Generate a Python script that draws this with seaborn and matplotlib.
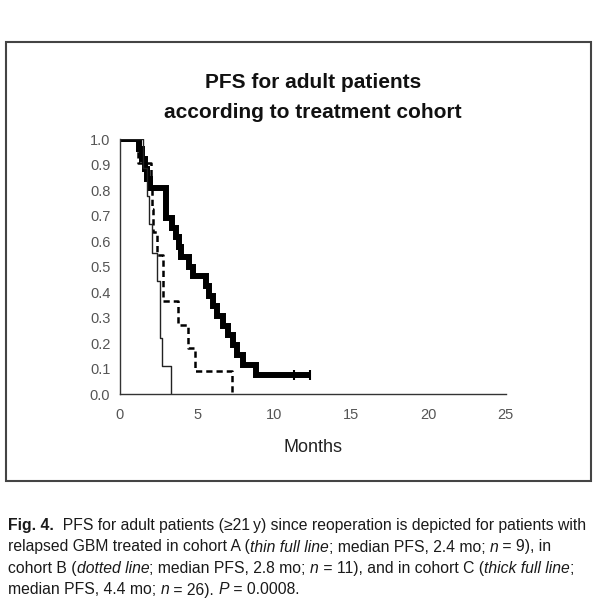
import matplotlib
matplotlib.use("Agg")
import matplotlib.pyplot as plt
import seaborn as sns
from matplotlib import font_manager
from matplotlib.font_manager import FontProperties
from matplotlib.patches import Rectangle
from matplotlib.transforms import IdentityTransform

# ---------------- data ----------------
# Cohort A (thin full line), n = 9
time_a = [0.0, 1.5, 1.75, 1.9, 2.1, 2.38, 2.59, 2.7, 3.3]
surv_a = [1.0, 0.889, 0.778, 0.667, 0.556, 0.444, 0.222, 0.111, 0.0]

# Cohort B (dotted line), n = 11
time_b = [0.0, 1.19, 2.0, 2.08, 2.15, 2.38, 2.76, 3.75, 4.43, 4.86, 7.27]
surv_b = [1.0, 0.909, 0.818, 0.727, 0.636, 0.545, 0.364, 0.273, 0.182, 0.091, 0.0]

# Cohort C (thick full line), n = 26
time_c = [0.0, 1.25, 1.45, 1.6, 1.75, 1.95, 2.95, 3.35, 3.6, 3.8, 3.95, 4.45,
          4.7, 5.6, 5.8, 6.0, 6.3, 6.7, 7.0, 7.3, 7.6, 8.0, 8.8, 12.3]
surv_c = [1.0, 0.962, 0.923, 0.885, 0.846, 0.808, 0.692, 0.654, 0.615, 0.577,
          0.538, 0.5, 0.462, 0.423, 0.385, 0.346, 0.308, 0.269, 0.231, 0.192,
          0.154, 0.115, 0.077, 0.077]
censor_c_t = [11.3, 12.3]
censor_c_s = [0.077, 0.077]

x_ticks = [0, 5, 10, 15, 20, 25]
y_ticks = [0.0, 0.1, 0.2, 0.3, 0.4, 0.5, 0.6, 0.7, 0.8, 0.9, 1.0]
y_ticklabels = ["0.0", "0.1", "0.2", "0.3", "0.4", "0.5", "0.6", "0.7", "0.8", "0.9", "1.0"]

title_lines = ["PFS for adult patients", "according to treatment cohort"]
x_label = "Months"

caption_lines = [
    [("Fig. 4.", "b"), ("  PFS for adult patients (\u226521\u2009y) since reoperation is depicted for patients with", "r")],
    [("relapsed GBM treated in cohort A (", "r"), ("thin full line", "i"), ("; median PFS, 2.4 mo; ", "r"),
     ("n", "i"), (" = 9), in", "r")],
    [("cohort B (", "r"), ("dotted line", "i"), ("; median PFS, 2.8 mo; ", "r"), ("n", "i"),
     (" = 11), and in cohort C (", "r"), ("thick full line", "i"), (";", "r")],
    [("median PFS, 4.4 mo; ", "r"), ("n", "i"), (" = 26). ", "r"), ("P", "i"), (" = 0.0008.", "r")],
]

# ---------------- style ----------------
sns.set_style("white")
plt.rcParams["font.family"] = ["Liberation Sans", "DejaVu Sans"]

W, H = 600, 600
fig = plt.figure(figsize=(6, 6), dpi=100)
ax = fig.add_axes([120 / W, 1 - 394.3 / H, 385.7 / W, 255 / H])

sns.lineplot(x=time_c, y=surv_c, ax=ax, drawstyle="steps-post", color="black",
             linewidth=4.3, estimator=None, sort=False,
             solid_joinstyle="miter", solid_capstyle="butt")
sns.scatterplot(x=censor_c_t, y=censor_c_s, ax=ax, marker="|", s=60,
                color="black", linewidth=1.5)
sns.lineplot(x=time_b, y=surv_b, ax=ax, drawstyle="steps-post", color="black",
             linewidth=1.8, estimator=None, sort=False, dashes=False,
             linestyle=(0, (2.5, 1.6)))
sns.lineplot(x=time_a, y=surv_a, ax=ax, drawstyle="steps-post", color="#222222",
             linewidth=1.0, estimator=None, sort=False)

ax.set_xlim(0, 25)
ax.set_ylim(0, 1)
ax.set_xticks(x_ticks)
ax.set_xticklabels([str(v) for v in x_ticks])
ax.set_yticks(y_ticks)
ax.set_yticklabels(y_ticklabels)
for s in ["top", "right"]:
    ax.spines[s].set_visible(False)
for s in ["left", "bottom"]:
    ax.spines[s].set_color("#333333")
    ax.spines[s].set_linewidth(1.0)
ax.tick_params(axis="both", direction="out", length=4, width=1.0, color="#333333",
               labelsize=10.5, labelcolor="#555555")
ax.tick_params(axis="x", pad=6)
ax.tick_params(axis="y", pad=3)
ax.set_xlabel("")
ax.set_ylabel("")
ax.set_facecolor("white")

# title and x label
fig.text(313 / W, 1 - 82 / H, title_lines[0], ha="center", va="center",
         fontsize=15, fontweight="bold", color="#111111")
fig.text(313 / W, 1 - 113 / H, title_lines[1], ha="center", va="center",
         fontsize=15, fontweight="bold", color="#111111")
fig.text(313 / W, 1 - 448 / H, x_label, ha="center", va="center",
         fontsize=13, color="#222222")

# outer frame
fig.patches.append(Rectangle((6 / W, 1 - 481 / H), 585 / W, 439 / H,
                             transform=fig.transFigure, fill=False,
                             edgecolor="#444444", linewidth=1.5))

# caption
names = {f.name for f in font_manager.fontManager.ttflist}
cap_family = ["Liberation Sans Narrow", "DejaVu Sans"] if "Liberation Sans Narrow" in names \
    else ["Liberation Sans", "DejaVu Sans"]

fig.canvas.draw()
renderer = fig.canvas.get_renderer()


def prop_for(style, size):
    return FontProperties(family=cap_family, size=size,
                          weight="bold" if style == "b" else "normal",
                          style="italic" if style == "i" else "normal")


def run_width(txt, style, size):
    p = prop_for(style, size)
    w1 = renderer.get_text_width_height_descent(txt + "x", p, ismath=False)[0]
    w2 = renderer.get_text_width_height_descent("x", p, ismath=False)[0]
    return w1 - w2


def line_width(runs, size):
    return sum(run_width(t, s, size) for t, s in runs)


base = 10.0
size = base * 580.0 / line_width(caption_lines[0], base)
size = min(size, 12.5)

baselines = [530, 551.5, 573, 594.5]
for runs, yb in zip(caption_lines, baselines):
    x = 8.0
    for txt, style in runs:
        fig.text(x, H - yb, txt, transform=IdentityTransform(),
                 fontproperties=prop_for(style, size), ha="left", va="baseline",
                 color="#1a1a1a")
        x += run_width(txt, style, size)

fig.savefig("out.png", dpi=100, facecolor="white")
